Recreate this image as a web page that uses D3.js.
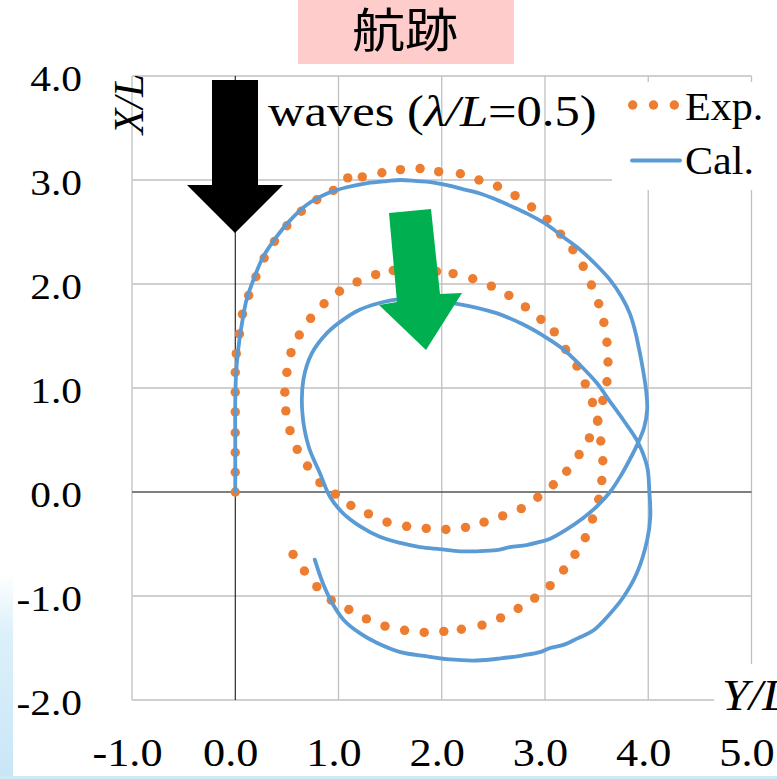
<!DOCTYPE html>
<html>
<head>
<meta charset="utf-8">
<script src="https://cdn.jsdelivr.net/npm/d3@7"></script>
<style>
  html, body { margin: 0; padding: 0; background: #ffffff; }
  svg { display: block; }
</style>
</head>
<body>
<svg id="chart" width="777" height="779"></svg>
<script>
// Tick values and their labels
const xTicks = [-1, 0, 1, 2, 3, 4, 5];
const xTickLabels = ["-1.0", "0.0", "1.0", "2.0", "3.0", "4.0", "5.0"];
const yTicks = [-2, -1, 0, 1, 2, 3, 4];
const yTickLabels = ["-2.0", "-1.0", "0.0", "1.0", "2.0", "3.0", "4.0"];

// Experimental trajectory (Y/L horizontal, X/L vertical)
const expYL = [0.00,0.00,0.00,0.00,0.00,0.00,0.00,0.01,0.04,0.07,
  0.13,0.20,0.28,0.38,0.50,0.64,0.79,0.95,1.09,1.23,
  1.42,1.60,1.79,1.97,2.18,2.36,2.54,2.71,2.87,3.02,
  3.15,3.27,3.37,3.45,3.52,3.57,3.60,3.61,3.60,3.56,
  3.51,3.43,3.33,3.21,3.08,2.93,2.77,2.59,2.41,2.23,
  2.04,1.85,1.66,1.47,1.29,1.12,0.97,0.82,0.70,0.60,
  0.53,0.49,0.48,0.50,0.54,0.62,0.73,0.86,1.01,1.18,
  1.36,1.53,1.74,1.95,2.11,2.30,2.48,2.65,2.81,2.96,
  3.09,3.20,3.31,3.39,3.46,3.51,3.54,3.56,3.55,3.52,
  3.46,3.39,3.29,3.18,3.05,2.90,2.74,2.57,2.39,2.19,
  2.02,1.83,1.64,1.45,1.27,1.10,0.93,0.79,0.67,0.56];
const expXL = [0.00,0.19,0.38,0.57,0.77,0.96,1.15,1.33,1.52,1.71,
  1.89,2.07,2.25,2.41,2.56,2.70,2.81,2.90,3.02,3.03,
  3.07,3.10,3.11,3.08,3.06,3.00,2.94,2.85,2.74,2.62,
  2.48,2.33,2.17,1.99,1.81,1.63,1.44,1.25,1.06,0.88,
  0.69,0.52,0.36,0.20,0.07,-0.05,-0.16,-0.23,-0.29,-0.34,
  -0.36,-0.35,-0.33,-0.29,-0.21,-0.13,-0.02,0.09,0.25,0.41,
  0.59,0.78,0.96,1.15,1.34,1.51,1.67,1.81,1.93,2.02,
  2.09,2.13,2.13,2.12,2.10,2.05,1.98,1.89,1.78,1.66,
  1.54,1.37,1.21,1.04,0.86,0.68,0.49,0.30,0.11,-0.07,
  -0.26,-0.44,-0.60,-0.75,-0.90,-1.02,-1.12,-1.21,-1.28,-1.32,
  -1.34,-1.35,-1.33,-1.29,-1.22,-1.13,-1.04,-0.91,-0.76,-0.60];

// Calculated trajectory
const calYL = [0.00,0.00,0.00,0.01,0.04,0.07,0.11,0.18,0.27,0.39,
  0.52,0.69,0.89,1.08,1.28,1.47,1.60,1.76,1.89,2.05,
  2.21,2.37,2.53,2.69,2.86,3.02,3.18,3.34,3.50,3.63,
  3.74,3.82,3.87,3.91,3.95,3.98,3.99,3.96,3.90,3.82,
  3.73,3.63,3.50,3.37,3.21,3.05,2.95,2.82,2.66,2.53,
  2.34,2.18,1.98,1.79,1.60,1.40,1.21,1.05,0.92,0.82,
  0.71,0.65,0.66,0.74,0.89,1.05,1.20,1.37,1.56,1.79,
  2.15,2.53,2.79,3.02,3.18,3.34,3.50,3.63,3.76,3.90,
  3.99,4.01,4.02,3.99,3.89,3.76,3.63,3.47,3.31,3.18,
  3.05,2.95,2.79,2.57,2.34,2.08,1.86,1.60,1.37,1.21,
  1.05,0.94,0.85,0.77];
const calXL = [0.00,0.50,0.88,1.17,1.46,1.65,1.85,2.05,2.26,2.44,
  2.60,2.76,2.87,2.93,2.97,2.99,3.00,2.99,2.98,2.95,
  2.91,2.87,2.81,2.74,2.66,2.57,2.45,2.33,2.18,2.04,
  1.88,1.72,1.56,1.38,1.17,0.97,0.80,0.62,0.47,0.31,
  0.15,0.00,-0.14,-0.25,-0.36,-0.45,-0.48,-0.51,-0.53,-0.56,
  -0.57,-0.57,-0.55,-0.53,-0.49,-0.43,-0.33,-0.21,-0.05,0.18,
  0.44,0.76,1.08,1.33,1.53,1.66,1.75,1.81,1.85,1.85,
  1.81,1.72,1.61,1.48,1.37,1.22,1.05,0.87,0.69,0.48,
  0.24,0.02,-0.24,-0.46,-0.78,-1.01,-1.17,-1.33,-1.41,-1.47,
  -1.50,-1.54,-1.57,-1.60,-1.62,-1.61,-1.58,-1.54,-1.45,-1.36,
  -1.23,-1.07,-0.88,-0.65];

const seriesNames = ["Exp.", "Cal."];
const titleText = "航跡";

const svg = d3.select("#chart");
const serif = "'Liberation Serif', 'Times New Roman', serif";
const ORANGE = "#ed7d31", BLUE = "#5b9bd5", GREEN = "#00b050";

const x = d3.scaleLinear().domain([-1, 5]).range([132, 751.5]);
const y = d3.scaleLinear().domain([-2, 4]).range([700, 76]);

// slide background strips along the left and bottom edges
const defs = svg.append("defs");
const grad = defs.append("linearGradient").attr("id", "edge").attr("x1", 0).attr("y1", 0).attr("x2", 0).attr("y2", 1);
grad.append("stop").attr("offset", "0%").attr("stop-color", "#ffffff");
grad.append("stop").attr("offset", "30%").attr("stop-color", "#dcf0fa");
grad.append("stop").attr("offset", "100%").attr("stop-color", "#c9e6f6");
svg.append("rect").attr("x", 0).attr("y", 572).attr("width", 13).attr("height", 207).attr("fill", "url(#edge)");
svg.append("rect").attr("x", 0).attr("y", 776).attr("width", 777).attr("height", 3).attr("fill", "#d0e9f7");

// stretched text helper
function label(parent, px, py, str, size, sx, anchor, extra) {
  const t = parent.append("text")
    .attr("transform", `translate(${px},${py}) scale(${sx},1)` + (extra || ""))
    .attr("font-family", serif)
    .attr("font-size", size)
    .attr("fill", "#000")
    .attr("text-anchor", anchor || "start");
  if (str !== null) t.text(str);
  return t;
}

// grid
const grid = svg.append("g");
xTicks.filter(v => v !== 0).forEach(v => {
  grid.append("line").attr("x1", x(v)).attr("x2", x(v)).attr("y1", y(4)).attr("y2", y(-2))
    .attr("stroke", "#c0c0c0").attr("stroke-width", 1.3);
});
yTicks.filter(v => v !== 0).forEach(v => {
  grid.append("line").attr("x1", x(-1)).attr("x2", x(5)).attr("y1", y(v)).attr("y2", y(v))
    .attr("stroke", "#c0c0c0").attr("stroke-width", 1.3);
});
// axis lines through the origin
svg.append("line").attr("x1", x(-1)).attr("x2", x(5)).attr("y1", y(0)).attr("y2", y(0))
  .attr("stroke", "#555555").attr("stroke-width", 1.6);
svg.append("line").attr("x1", x(0)).attr("x2", x(0)).attr("y1", y(4)).attr("y2", y(-2))
  .attr("stroke", "#000000").attr("stroke-width", 1);

// white backing for legend and horizontal axis title
svg.append("rect").attr("x", 612).attr("y", 82).attr("width", 165).attr("height", 108).attr("fill", "#fff");
svg.append("rect").attr("x", 714).attr("y", 664).attr("width", 63).attr("height", 58).attr("fill", "#fff");

// tick labels
yTicks.forEach((v, i) => label(svg, 82, y(v) + 14.5, yTickLabels[i], 36, 1.15, "end"));
xTicks.forEach((v, i) => label(svg, x(v) - 4.5, 766, xTickLabels[i], 41, 1.08, "middle"));

// axis titles
label(svg, 143, 104, "X/L", 42, 1.0, "middle", " rotate(-90)").attr("font-style", "italic");
label(svg, 722, 710, "Y/L", 44, 1.1, "start").attr("font-style", "italic");

// experimental points
const expData = expYL.map((v, i) => [v, expXL[i]]);
svg.append("g").selectAll("circle").data(expData).join("circle")
  .attr("cx", d => x(d[0])).attr("cy", d => y(d[1])).attr("r", 4.7).attr("fill", ORANGE);

// calculated path
const calData = calYL.map((v, i) => [v, calXL[i]]);
svg.append("path").datum(calData)
  .attr("d", d3.line().x(d => x(d[0])).y(d => y(d[1])).curve(d3.curveCatmullRom.alpha(0.5)))
  .attr("fill", "none").attr("stroke", BLUE).attr("stroke-width", 3.8)
  .attr("stroke-linejoin", "round").attr("stroke-linecap", "round");

// wave direction arrow
svg.append("polygon")
  .attr("points", [[212,80],[258,80],[258,185],[283,185],[235,233],[187,185],[212,185]].map(p => p.join(",")).join(" "))
  .attr("fill", "#000");
// drift direction arrow
svg.append("polygon")
  .attr("points", [[389,213],[431,209],[440,294],[462,293],[426,350],[379,305],[397,302]].map(p => p.join(",")).join(" "))
  .attr("fill", GREEN);

// wave condition annotation
const w = label(svg, 268, 126, null, 44, 1.15, "start");
w.append("tspan").text("waves (");
w.append("tspan").attr("font-style", "italic").text("λ/L");
w.append("tspan").text("=0.5)");

// legend
const legend = svg.append("g");
[632.7, 653.5, 674.3].forEach(cx => legend.append("circle").attr("cx", cx).attr("cy", 105).attr("r", 4.7).attr("fill", ORANGE));
legend.append("line").attr("x1", 632).attr("x2", 680).attr("y1", 160.5).attr("y2", 160.5)
  .attr("stroke", BLUE).attr("stroke-width", 3.8).attr("stroke-linecap", "round");
label(legend, 685, 120, seriesNames[0], 39, 1.08, "start");
label(legend, 685, 174, seriesNames[1], 39, 1.08, "start");

// title
svg.append("rect").attr("x", 298).attr("y", 0).attr("width", 216).attr("height", 64).attr("fill", "#ffcccc");
svg.append("text")
  .attr("transform", "translate(405,47) scale(1.13,1)")
  .attr("font-family", "'Noto Sans CJK JP', 'Noto Sans CJK SC', sans-serif")
  .attr("font-size", 47).attr("text-anchor", "middle").attr("fill", "#000")
  .text(titleText);
</script>
</body>
</html>
